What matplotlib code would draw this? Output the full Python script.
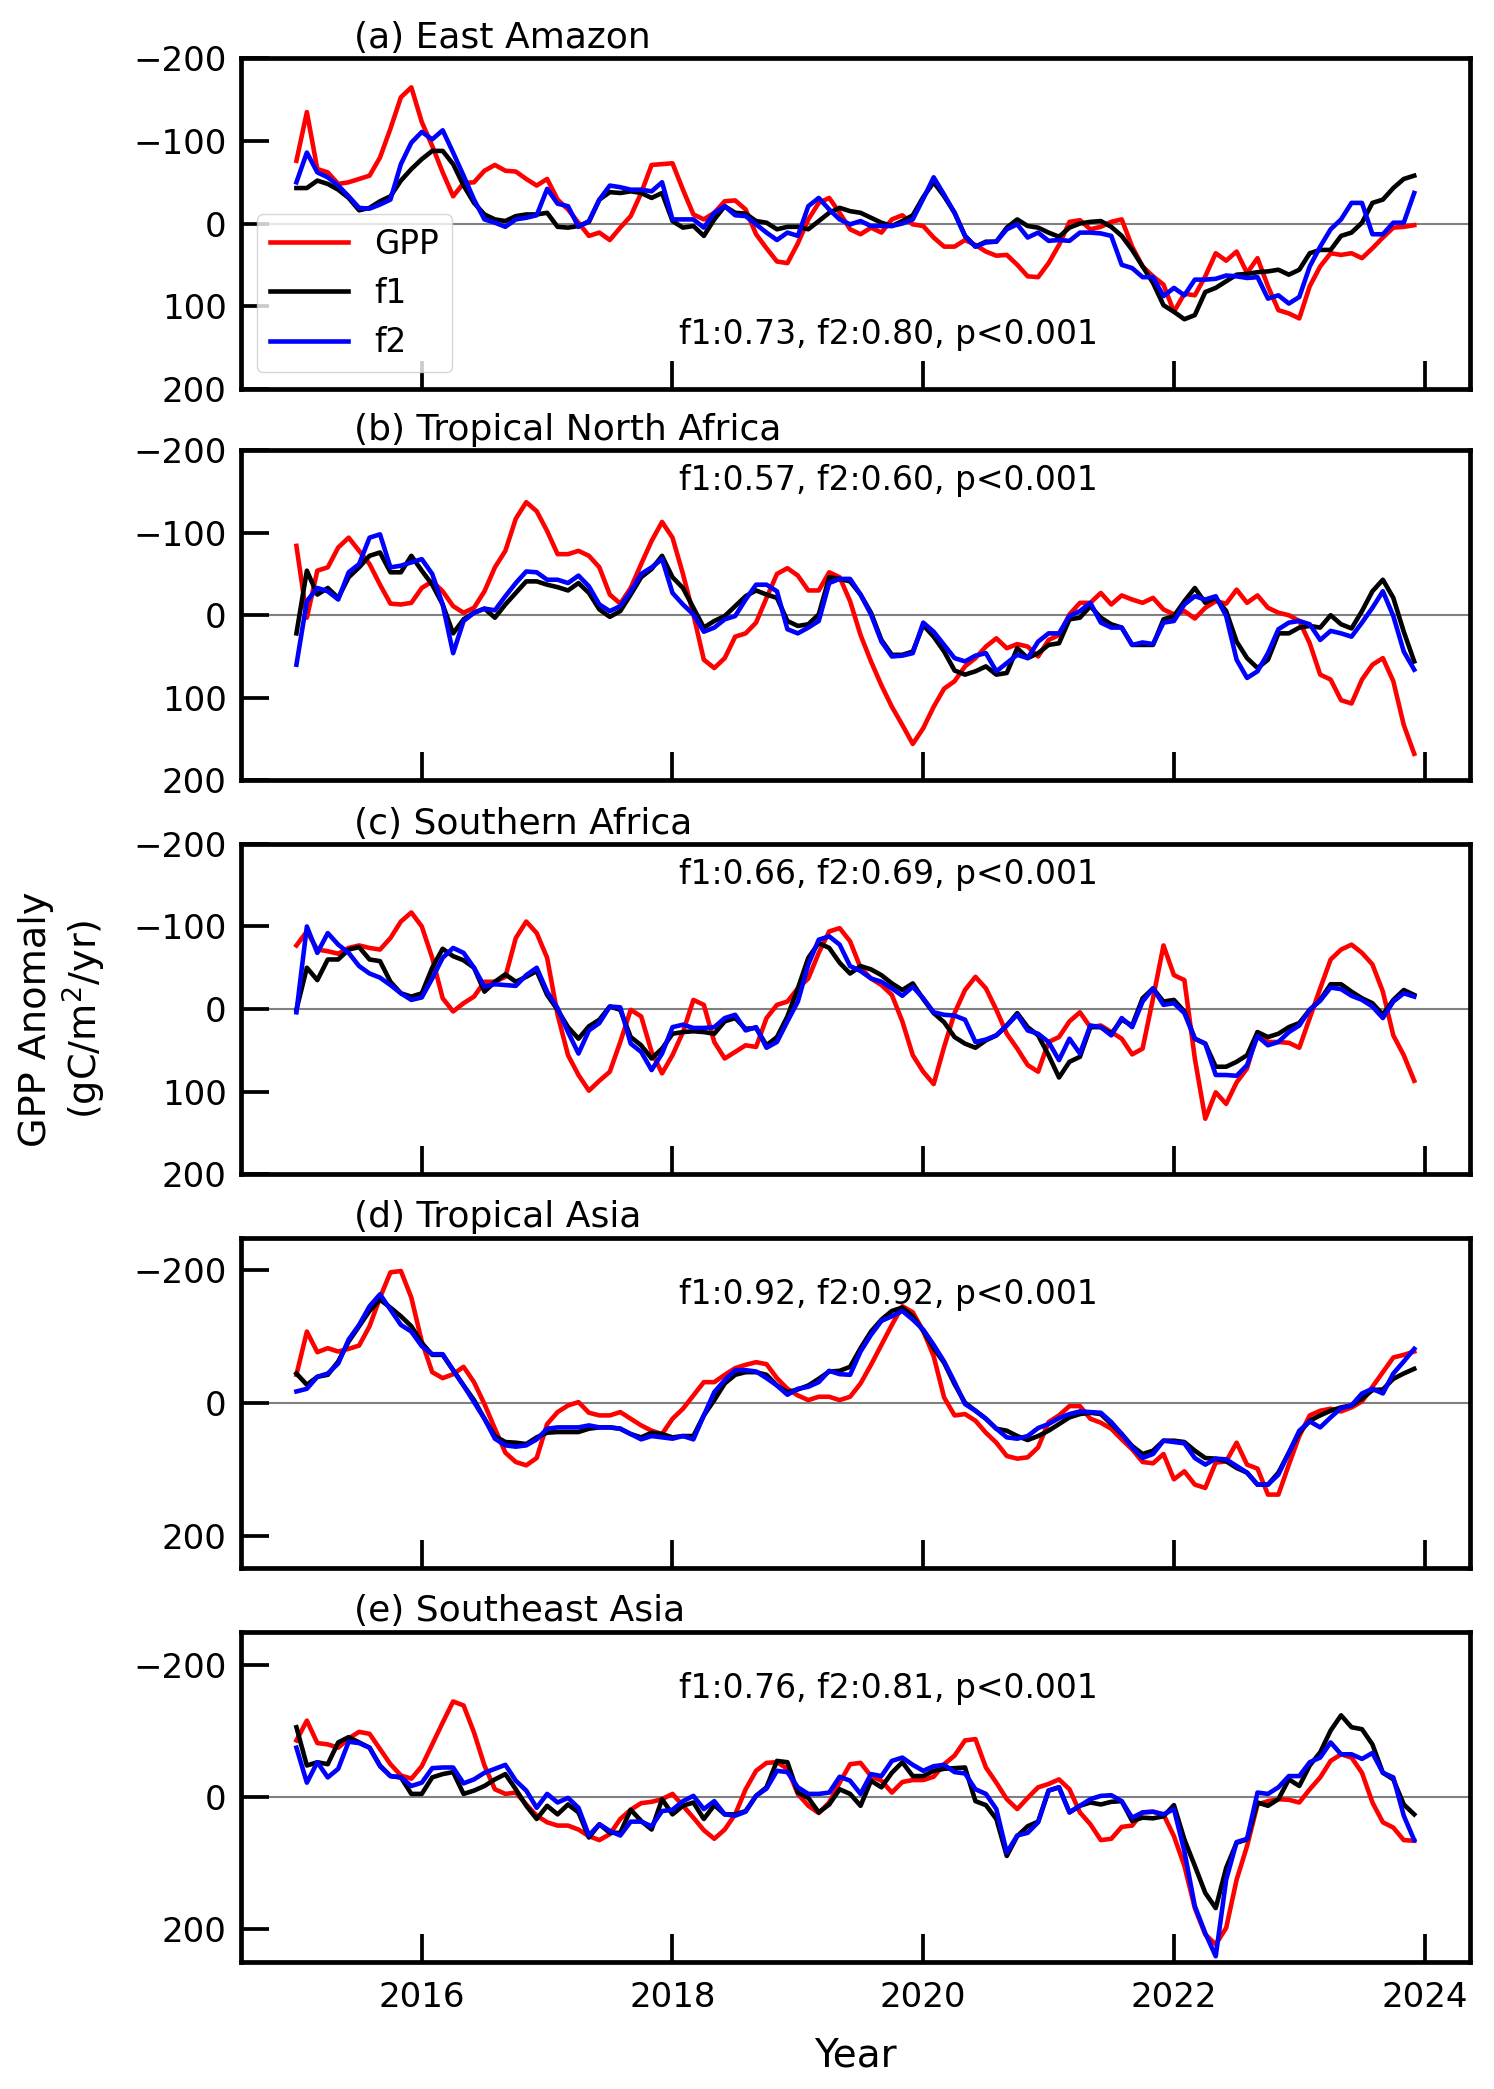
import numpy as np
import matplotlib
matplotlib.use("Agg")
import matplotlib.pyplot as plt

years = 2015 + np.arange(108) / 12.0

titles = ["(a) East Amazon", "(b) Tropical North Africa", "(c) Southern Africa",
          "(d) Tropical Asia", "(e) Southeast Asia"]
corr_texts = ["f1:0.73, f2:0.80, p<0.001", "f1:0.57, f2:0.60, p<0.001",
              "f1:0.66, f2:0.69, p<0.001", "f1:0.92, f2:0.92, p<0.001",
              "f1:0.76, f2:0.81, p<0.001"]

a_gpp = [-76,-135,-66,-62,-48,-50,-54,-58,-80,-115,-153,-165,-123,-94,-62,-33,-49,-50,-64,-71,
         -64,-63,-54,-46,-54,-29,-17,-1,15,11,20,5,-9,-37,-71,-72,-73,-41,-11,-5,
         -13,-27,-28,-17,13,30,46,48,24,-5,-25,-31,-13,7,13,5,11,-5,-10,1,
         3,17,28,28,20,26,34,39,38,50,64,65,48,26,-2,-4,7,4,-2,-5,
         28,52,64,74,107,85,87,64,36,45,34,60,42,76,105,109,115,76,52,36,
         38,36,42,30,17,5,4,2]
a_f1 = [-43,-43,-52,-48,-41,-31,-16,-19,-27,-33,-52,-66,-78,-88,-88,-72,-46,-25,-11,-5,
        -3,-9,-11,-11,-13,4,5,3,-2,-29,-38,-37,-39,-37,-31,-37,-3,5,3,15,
        -5,-21,-13,-12,-3,-1,7,4,4,7,-3,-13,-19,-15,-13,-7,-1,3,-3,-10,
        -32,-50,-33,-13,15,28,22,22,5,-5,3,5,11,16,5,0,-2,-3,4,15,
        32,52,72,99,107,116,111,83,78,70,62,61,59,58,56,62,56,36,32,32,
        15,11,-1,-25,-29,-43,-54,-58]
a_f2 = [-50,-86,-62,-56,-46,-33,-19,-18,-23,-29,-72,-98,-111,-102,-113,-86,-58,-29,-5,-1,
        4,-5,-7,-10,-42,-24,-21,4,-3,-29,-46,-44,-41,-41,-39,-50,-5,-5,-5,5,
        -13,-21,-10,-9,1,11,20,11,15,-21,-31,-17,-5,1,-3,3,3,3,0,-5,
        -30,-56,-35,-13,15,28,23,22,7,1,17,11,21,20,21,11,11,12,15,50,
        54,65,65,88,78,87,68,68,67,63,64,66,65,91,87,97,89,52,28,7,
        -5,-25,-25,13,13,-1,-1,-37]

b_gpp = [-84,3,-54,-58,-82,-94,-78,-62,-37,-14,-13,-15,-33,-41,-29,-11,-3,-9,-29,-58,
         -78,-117,-137,-126,-102,-74,-74,-78,-72,-58,-25,-14,-33,-62,-90,-113,-94,-50,-1,54,
         64,52,26,22,9,-21,-50,-57,-48,-30,-30,-52,-46,-17,24,56,85,111,133,156,
         137,111,89,80,62,52,38,28,40,35,38,50,30,24,-1,-15,-15,-27,-13,-24,
         -19,-15,-21,-7,-1,-5,4,-9,-17,-14,-31,-15,-24,-9,-3,0,7,34,72,78,
         103,107,78,60,52,80,133,168]
b_f1 = [22,-54,-25,-33,-21,-46,-58,-72,-76,-52,-52,-72,-54,-37,-13,22,5,-3,-8,3,
        -13,-27,-41,-41,-37,-34,-30,-39,-27,-7,2,-5,-25,-46,-56,-72,-46,-33,-9,15,
        7,1,-11,-23,-30,-25,-21,7,13,11,-1,-46,-44,-41,-25,-3,30,48,48,44,
        12,26,44,67,72,68,62,72,70,40,52,46,36,34,5,3,-11,3,11,15,
        36,36,36,5,1,-17,-33,-15,-21,-5,32,52,64,54,22,22,15,13,15,0,
        11,16,-5,-29,-43,-21,20,56]
b_f2 = [60,-17,-33,-29,-19,-52,-62,-94,-98,-58,-60,-64,-68,-50,-13,46,7,-3,-8,-6,
        -23,-39,-53,-52,-43,-43,-39,-48,-35,-13,-5,-11,-29,-50,-58,-68,-27,-13,-1,20,
        15,5,1,-19,-37,-37,-29,17,22,15,7,-39,-44,-44,-25,-1,32,50,49,46,
        9,20,36,52,56,49,46,68,58,48,52,32,22,22,1,-5,-15,9,15,15,
        36,33,35,9,7,-13,-23,-19,-23,1,54,76,68,46,17,9,7,11,30,19,
        22,26,9,-9,-29,1,44,66]

c_gpp = [-77,-94,-72,-70,-67,-74,-77,-74,-72,-86,-106,-117,-100,-62,-13,3,-7,-15,-33,-33,
         -39,-86,-106,-92,-62,7,56,80,99,87,76,40,1,9,52,78,56,28,-11,-5,
         40,60,52,44,46,11,-5,-9,-25,-37,-68,-94,-98,-82,-50,-37,-29,-17,15,56,
         76,91,46,5,-23,-39,-25,1,30,48,68,76,40,34,15,4,22,20,28,36,
         55,48,-13,-77,-41,-35,60,133,101,115,89,72,28,40,40,41,47,11,-25,-60,
         -72,-78,-68,-54,-21,32,56,87]
c_f1 = [1,-50,-35,-60,-60,-72,-75,-60,-58,-33,-19,-15,-19,-50,-73,-64,-59,-50,-21,-33,
        -42,-33,-39,-46,-17,1,22,36,21,13,-3,1,34,44,60,48,30,28,27,28,
        30,15,11,24,23,44,34,9,-25,-62,-80,-74,-56,-43,-52,-48,-41,-31,-23,-31,
        -12,5,16,34,42,47,38,32,20,5,22,32,56,83,64,58,22,22,30,13,
        20,-13,-25,-9,-11,3,36,42,70,70,64,56,28,34,30,22,17,1,-11,-30,
        -30,-21,-13,-7,7,-11,-23,-17]
c_f2 = [4,-100,-68,-92,-78,-68,-52,-43,-38,-29,-19,-11,-14,-37,-62,-74,-68,-50,-27,-30,
        -29,-28,-41,-50,-21,-1,28,54,26,17,-3,-2,42,52,74,54,22,19,23,23,
        22,11,7,26,22,47,40,15,-9,-54,-84,-88,-78,-52,-46,-37,-33,-25,-16,-27,
        -13,4,7,8,13,40,37,32,20,7,26,30,40,62,36,54,20,22,32,11,
        22,-9,-25,-5,-7,5,36,42,80,80,81,68,33,44,40,28,20,1,-10,-26,
        -24,-16,-11,-3,11,-9,-19,-15]

d_gpp = [-42,-107,-76,-82,-77,-81,-86,-115,-158,-196,-198,-158,-92,-46,-37,-43,-54,-31,2,39,
         75,89,94,83,32,14,4,-1,15,19,19,14,24,34,42,47,24,9,-11,-31,
         -31,-42,-52,-57,-61,-58,-37,-21,-11,-4,-9,-9,-4,-9,-29,-57,-87,-117,-145,-136,
         -108,-70,-8,19,17,27,45,60,80,84,82,67,29,19,5,5,24,30,39,55,
         70,89,91,77,115,103,123,128,90,88,60,93,99,138,138,93,50,19,12,9,
         13,7,-2,-24,-46,-68,-72,-77]
d_f1 = [-44,-27,-39,-42,-62,-92,-115,-138,-155,-143,-130,-115,-90,-72,-72,-49,-26,-4,24,50,
        59,60,62,52,45,44,44,44,39,37,37,39,47,52,45,47,52,50,50,19,
        -4,-29,-42,-46,-46,-42,-26,-16,-20,-26,-36,-47,-48,-54,-82,-107,-125,-138,-143,-130,
        -108,-82,-60,-28,0,12,24,39,42,50,56,50,42,32,22,17,15,17,32,47,
        65,77,72,57,57,59,72,83,84,88,98,105,123,123,105,75,45,27,19,12,
        7,4,-6,-19,-20,-36,-44,-51]
d_f2 = [-17,-21,-39,-44,-59,-95,-117,-145,-163,-140,-117,-107,-85,-73,-73,-49,-26,-1,24,54,
        64,66,64,55,39,37,37,37,34,37,37,39,47,55,50,52,54,50,55,19,
        -16,-34,-49,-49,-47,-37,-26,-12,-21,-24,-31,-48,-43,-42,-77,-102,-123,-130,-138,-125,
        -110,-87,-62,-31,2,12,24,39,52,54,50,38,32,23,17,13,14,15,29,47,
        67,83,77,57,59,61,83,93,84,85,95,105,123,123,108,75,42,28,37,22,
        8,4,-14,-21,-14,-44,-62,-81]

e_gpp = [-85,-115,-81,-79,-74,-88,-98,-95,-72,-49,-32,-27,-46,-79,-112,-144,-138,-97,-47,-11,
         -4,-6,12,29,39,44,44,50,60,66,57,34,20,10,8,4,-4,14,32,51,
         64,50,27,-11,-39,-51,-52,-42,-4,14,25,9,-21,-49,-51,-31,-24,-6,-22,-25,
         -25,-30,-49,-62,-85,-87,-44,-21,4,19,2,-14,-19,-26,-11,24,42,66,64,46,
         44,24,23,27,60,105,169,209,224,199,126,75,12,7,4,5,9,-11,-29,-54,
         -64,-59,-36,9,39,47,66,67]
e_f1 = [-105,-47,-52,-49,-82,-90,-82,-74,-47,-31,-29,-4,-4,-29,-34,-37,-4,-9,-16,-26,
        -34,-11,14,34,14,27,12,24,62,42,55,55,20,37,50,4,27,14,9,34,
        13,27,27,22,-1,-14,-54,-52,-6,2,24,12,-11,-4,14,-24,-14,-36,-52,-31,
        -31,-39,-42,-43,-44,7,13,34,90,60,45,38,-9,-14,24,14,9,12,8,7,
        37,32,33,30,13,65,105,146,169,108,70,65,9,14,4,-26,-16,-47,-67,-100,
        -123,-105,-102,-79,-36,-26,12,27]
e_f2 = [-74,-21,-52,-29,-42,-83,-81,-74,-46,-31,-29,-16,-21,-43,-44,-44,-20,-26,-36,-42,
        -48,-24,-9,17,-4,9,2,17,59,42,52,59,38,38,45,22,20,7,-1,19,
        7,27,29,23,-1,-12,-39,-37,-14,-4,-4,-6,-30,-24,-4,-34,-31,-54,-59,-48,
        -39,-46,-48,-37,-35,-11,-4,19,85,59,55,39,-9,-14,24,14,4,-1,-2,7,
        32,24,23,27,19,83,166,207,242,126,69,64,-6,-4,-14,-31,-31,-52,-59,-82,
        -64,-64,-57,-66,-36,-29,29,66]

gpp_series = [a_gpp, b_gpp, c_gpp, d_gpp, e_gpp]
f1_series = [a_f1, b_f1, c_f1, d_f1, e_f1]
f2_series = [a_f2, b_f2, c_f2, d_f2, e_f2]
ylims = [200, 200, 200, 248, 250]
yticks_list = [[-200, -100, 0, 100, 200]] * 3 + [[-200, 0, 200]] * 2
text_y = [135, -163, -163, -163, -163]

fig = plt.figure(figsize=(14.94, 20.89), dpi=100)
left, right = 0.161, 0.984
tops = [0.972, 0.7845, 0.596, 0.4075, 0.219]
h = 0.158

axes = []
for k in range(5):
    ax = fig.add_axes([left, tops[k] - h, right - left, h])
    axes.append(ax)
    ax.plot(years, gpp_series[k], color="red", lw=3.3, label="GPP")
    ax.plot(years, f1_series[k], color="black", lw=3.3, label="f1")
    ax.plot(years, f2_series[k], color="blue", lw=3.3, label="f2")
    ax.axhline(0, color="gray", lw=1.5, zorder=0)
    ax.set_ylim(ylims[k], -ylims[k])
    ax.set_yticks(yticks_list[k])
    ax.set_xticks([2016, 2018, 2020, 2022, 2024])
    ax.tick_params(axis="both", direction="in", labelsize=24.5, width=2.7, length=20)
    ax.tick_params(axis="x", pad=14)
    ax.tick_params(axis="y", pad=10)
    for s in ax.spines.values():
        s.set_linewidth(3.4)
    ax.text(0.092, 1.01, titles[k], transform=ax.transAxes, ha="left", va="bottom", fontsize=26)
    ax.text(2018.05, text_y[k], corr_texts[k], ha="left", va="center", fontsize=23.8)
    if k < 4:
        ax.tick_params(axis="x", labelbottom=False)

for ax in axes[1:]:
    ax.set_xlim(axes[0].get_xlim())

axes[0].legend(loc="lower left", fontsize=23.5, handlelength=2.4)
axes[4].set_xlabel("Year", fontsize=28, labelpad=16)
fig.text(0.042, 0.512, "GPP Anomaly\n(gC/m$^2$/yr)", rotation=90, ha="center", va="center",
         fontsize=27.5, multialignment="center")

fig.savefig("out.png", dpi=100)
